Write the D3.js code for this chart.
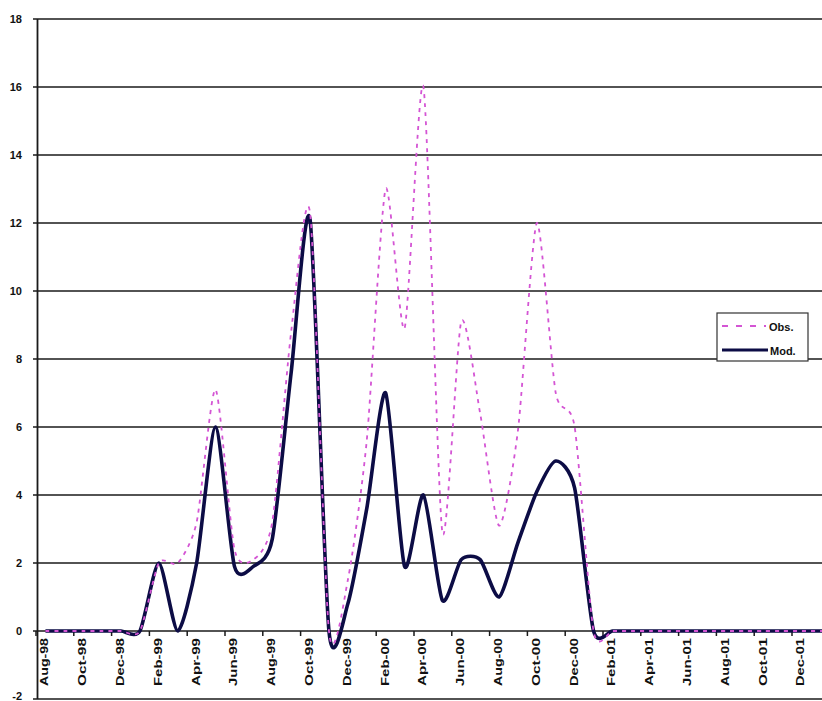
<!DOCTYPE html>
<html>
<head>
<meta charset="utf-8">
<script src="https://cdn.jsdelivr.net/npm/d3@7"></script>
<style>
  html, body { margin: 0; padding: 0; background: #fff; }
  svg { display: block; }
  text { font-family: "Liberation Sans", Arial, sans-serif; font-weight: bold; fill: #111; }
</style>
</head>
<body>
<svg id="chart" width="822" height="701"></svg>
<script>
const months = ["Aug-98","Sep-98","Oct-98","Nov-98","Dec-98","Jan-99","Feb-99","Mar-99","Apr-99","May-99",
  "Jun-99","Jul-99","Aug-99","Sep-99","Oct-99","Nov-99","Dec-99","Jan-00","Feb-00","Mar-00",
  "Apr-00","May-00","Jun-00","Jul-00","Aug-00","Sep-00","Oct-00","Nov-00","Dec-00","Jan-01",
  "Feb-01","Mar-01","Apr-01","May-01","Jun-01","Jul-01","Aug-01","Sep-01","Oct-01","Nov-01",
  "Dec-01","Jan-02","Feb-02"];
const obsValues = [0,0,0,0,0,0,2.0,2.0,3.2,7.1,
  2.4,2.1,3.2,8.8,12.3,0,1.5,5.6,13.0,8.9,
  16.0,2.9,9.1,6.4,3.1,5.9,12.0,7.0,6.0,0,
  0,0,0,0,0,0,0,0,0,0,
  0,0,0];
const modValues = [0,0,0,0,0,0,2.0,0,2.0,6.0,
  1.9,1.9,2.7,7.6,12.1,0,0.8,3.6,7.0,1.9,
  4.0,0.9,2.1,2.1,1.0,2.6,4.1,5.0,4.2,0,
  0,0,0,0,0,0,0,0,0,0,
  0,0,0];
const yTicks = [-2,0,2,4,6,8,10,12,14,16,18];
const seriesNames = ["Obs.","Mod."];

const svg = d3.select("#chart");
const catW = 18.9, x0 = 36;
const x = d3.scaleBand().domain(months).range([x0, x0 + months.length * catW]).padding(0);
const cx = m => x(m) + x.bandwidth() / 2;
const y = d3.scaleLinear().domain([-2, 18]).range([699, 19]);

// gridlines
svg.append("g").selectAll("line").data(yTicks).join("line")
  .attr("x1", 33).attr("x2", 822)
  .attr("y1", d => y(d)).attr("y2", d => y(d))
  .attr("stroke", "#1a1a1a").attr("stroke-width", 1.6);

// y axis line
svg.append("line").attr("x1", 37.5).attr("x2", 37.5).attr("y1", y(18)).attr("y2", y(-2))
  .attr("stroke", "#1a1a1a").attr("stroke-width", 1.8);

// y labels
svg.append("g").selectAll("text").data(yTicks).join("text")
  .attr("x", 22).attr("y", d => Math.min(y(d) + 4, 700))
  .attr("text-anchor", "end").attr("font-size", 11)
  .text(d => d);

// x ticks at category boundaries, every 2 categories
const tickIdx = d3.range(0, months.length + 1, 2);
svg.append("g").selectAll("line").data(tickIdx).join("line")
  .attr("x1", i => x0 + i * catW).attr("x2", i => x0 + i * catW)
  .attr("y1", y(0)).attr("y2", y(0) + 5)
  .attr("stroke", "#1a1a1a").attr("stroke-width", 1.5);

// x labels every second month
const labelMonths = months.filter((m, i) => i % 2 === 0 && i <= 40);
svg.append("g").selectAll("text").data(labelMonths).join("text")
  .attr("transform", m => `translate(${cx(m) + 3},${y(0) + 7}) rotate(-90)`)
  .attr("text-anchor", "end").attr("font-size", 11)
  .attr("textLength", 48).attr("lengthAdjust", "spacingAndGlyphs")
  .text(m => m);

const line = d3.line()
  .x((d, i) => cx(months[i]))
  .y(d => y(d))
  .curve(d3.curveCardinal.tension(0.3));

svg.append("path").datum(modValues).attr("d", line)
  .attr("fill", "none").attr("stroke", "#0c0c45").attr("stroke-width", 3.6)
  .attr("stroke-linejoin", "round");

svg.append("path").datum(obsValues).attr("d", line)
  .attr("fill", "none").attr("stroke", "#d455d4").attr("stroke-width", 1.8)
  .attr("stroke-dasharray", "4,5");

// legend
const lg = svg.append("g");
lg.append("rect").attr("x", 717).attr("y", 313).attr("width", 91).attr("height", 48)
  .attr("fill", "#fff").attr("stroke", "#333").attr("stroke-width", 1.2);
lg.append("line").attr("x1", 722).attr("x2", 766).attr("y1", 326).attr("y2", 326)
  .attr("stroke", "#d455d4").attr("stroke-width", 1.8).attr("stroke-dasharray", "6,8");
lg.append("text").attr("x", 769).attr("y", 331).attr("font-size", 11).text(seriesNames[0]);
lg.append("line").attr("x1", 722).attr("x2", 768).attr("y1", 350).attr("y2", 350)
  .attr("stroke", "#0c0c45").attr("stroke-width", 3.2);
lg.append("text").attr("x", 770).attr("y", 355).attr("font-size", 11).text(seriesNames[1]);
</script>
</body>
</html>
